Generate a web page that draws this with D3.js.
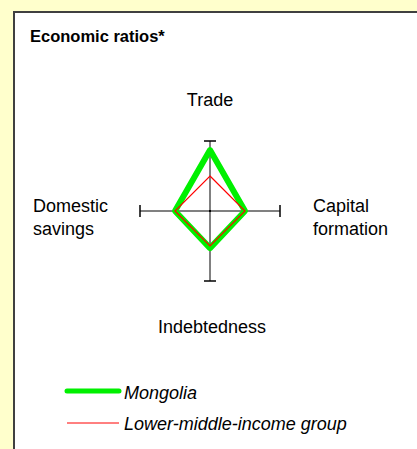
<!DOCTYPE html>
<html>
<head>
<meta charset="utf-8">
<script src="https://cdn.jsdelivr.net/npm/d3@7/dist/d3.min.js"></script>
<style>
  html, body { margin: 0; padding: 0; background: #FFFFCC; }
  svg { display: block; font-family: "Liberation Sans", Arial, sans-serif; }
</style>
</head>
<body>
<svg id="chart" width="417" height="449"></svg>
<script>
// ---- data ----
const axes = ["Trade", "Capital formation", "Indebtedness", "Domestic savings"];
const mongolia = [1.74, 1.0, 1.06, 1.0];
const groupAvg = [1.0, 1.0, 1.0, 1.0];
const seriesNames = ["Mongolia", "Lower-middle-income group"];
const title = "Economic ratios*";

// ---- layout ----
const W = 417, H = 449;
const cx = 210, cy = 211, R = 70;
const svg = d3.select("#chart");

svg.append("rect").attr("x", 0).attr("y", 0).attr("width", W).attr("height", H).attr("fill", "#FFFFCC");
svg.append("rect").attr("x", 14).attr("y", 12).attr("width", W).attr("height", H).attr("fill", "#FFFFFF");
svg.append("line").attr("x1", 14).attr("x2", 14).attr("y1", 11).attr("y2", H).attr("stroke", "#404040").attr("stroke-width", 2);
svg.append("line").attr("x1", 13).attr("x2", W).attr("y1", 12).attr("y2", 12).attr("stroke", "#404040").attr("stroke-width", 2);

svg.append("text").attr("x", 30).attr("y", 42).attr("font-size", 16.5).attr("font-weight", "bold").attr("fill", "#000").text(title);

const r = d3.scaleLinear().domain([0, 2]).range([0, R]);
// direction per axis: top, right, bottom, left
const dirs = [[0, -1], [1, 0], [0, 1], [-1, 0]];

const g = svg.append("g");
dirs.forEach(([dx, dy]) => {
  g.append("line")
    .attr("x1", cx).attr("y1", cy)
    .attr("x2", cx + dx * r(2)).attr("y2", cy + dy * r(2))
    .attr("stroke", "#808080").attr("stroke-width", 2);
});
dirs.forEach(([dx, dy]) => {
  const ex = cx + dx * r(2), ey = cy + dy * r(2);
  g.append("line")
    .attr("x1", ex - dy * 6).attr("y1", ey - dx * 6)
    .attr("x2", ex + dy * 6).attr("y2", ey + dx * 6)
    .attr("stroke", "#000").attr("stroke-width", 1.5);
});
g.append("rect").attr("x", cx - 1).attr("y", cy - 1).attr("width", 2).attr("height", 2).attr("fill", "#000");

const line = d3.line().curve(d3.curveLinearClosed);
const pts = vals => vals.map((v, i) => [cx + dirs[i][0] * r(v), cy + dirs[i][1] * r(v)]);

g.append("path").attr("d", line(pts(mongolia)))
  .attr("fill", "none").attr("stroke", "#00F000").attr("stroke-width", 6).attr("stroke-linejoin", "round");
g.append("path").attr("d", line(pts(groupAvg)))
  .attr("fill", "none").attr("stroke", "#FF0000").attr("stroke-width", 1.2);

// axis labels
const fs = 18;
svg.append("text").attr("x", 210).attr("y", 106).attr("text-anchor", "middle").attr("font-size", fs).text(axes[0]);
const cap = svg.append("text").attr("font-size", fs);
cap.append("tspan").attr("x", 313).attr("y", 212).text("Capital");
cap.append("tspan").attr("x", 313).attr("y", 235).text("formation");
const dom = svg.append("text").attr("font-size", fs);
dom.append("tspan").attr("x", 33).attr("y", 212).text("Domestic");
dom.append("tspan").attr("x", 33).attr("y", 235).text("savings");
svg.append("text").attr("x", 212).attr("y", 333).attr("text-anchor", "middle").attr("font-size", fs).text(axes[2]);

// legend
svg.append("line").attr("x1", 67).attr("x2", 119).attr("y1", 391).attr("y2", 391)
  .attr("stroke", "#00F000").attr("stroke-width", 5).attr("stroke-linecap", "round");
svg.append("text").attr("x", 124).attr("y", 399).attr("font-size", fs).attr("font-style", "italic").text(seriesNames[0]);
svg.append("line").attr("x1", 67).attr("x2", 119).attr("y1", 423).attr("y2", 423)
  .attr("stroke", "#FF0000").attr("stroke-width", 1);
svg.append("text").attr("x", 124).attr("y", 430).attr("font-size", fs).attr("font-style", "italic").text(seriesNames[1]);
</script>
</body>
</html>
